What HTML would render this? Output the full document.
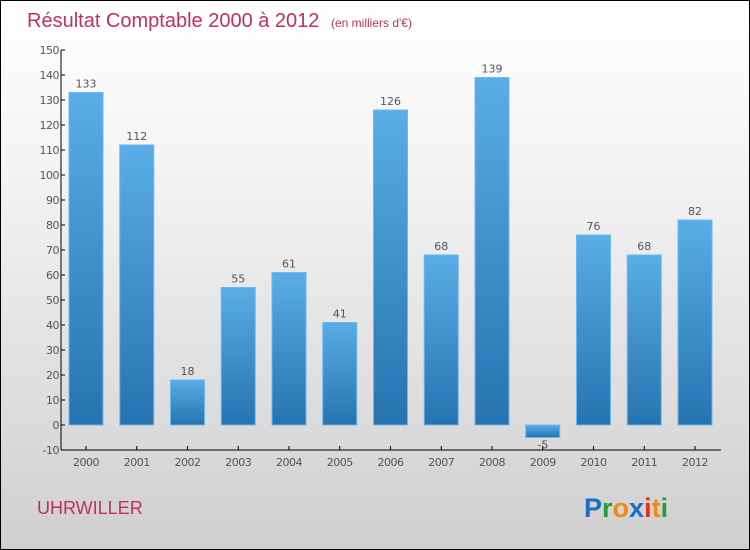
<!DOCTYPE html>
<html><head><meta charset="utf-8"><style>
body{margin:0}
#c{position:relative;width:748px;height:548px;border:1px solid #000;background:linear-gradient(#ffffff,#f4f4f4 30%,#cfcfcf);overflow:hidden;font-family:"DejaVu Sans","Liberation Sans",sans-serif}
</style></head><body>
<div id="c">
<svg id="s" width="748" height="548" xmlns="http://www.w3.org/2000/svg">
<defs><linearGradient id="g" x1="0" y1="0" x2="0" y2="1"><stop offset="0" stop-color="#5aade6"/><stop offset="1" stop-color="#2673b0"/></linearGradient></defs>
<text x="26" y="26" font-size="20" fill="#c0305f" font-family="Liberation Sans,sans-serif">Résultat Comptable 2000 à 2012 <tspan font-size="12" dx="6">(en milliers d'€)</tspan></text>
<text x="36" y="513" font-size="18" fill="#c0305f" font-family="Liberation Sans,sans-serif">UHRWILLER</text>
<text x="583" y="516" font-size="27" font-weight="bold" font-family="Liberation Sans,sans-serif"><tspan fill="#1a6fc4">P</tspan><tspan fill="#2a9a3a">r</tspan><tspan fill="#f08a10">o</tspan><tspan fill="#1a6fc4">x</tspan><tspan fill="#e03020">i</tspan><tspan fill="#f08a10">t</tspan><tspan fill="#2a9a3a">i</tspan></text>
<g id="plot"></g>
</svg>
</div>
<script>
const categories=["2000","2001","2002","2003","2004","2005","2006","2007","2008","2009","2010","2011","2012"];
const values=[133,112,18,55,61,41,126,68,139,-5,76,68,82];
const yTicks=[-10,0,10,20,30,40,50,60,70,80,90,100,110,120,130,140,150];
const NS="http://www.w3.org/2000/svg";
const g=document.getElementById('plot');
function y(v){return 424-(v*2.5);}
function x(i){return 85+i*50.75;}
function mk(t,a,txt){const e=document.createElementNS(NS,t);for(const k in a)e.setAttribute(k,a[k]);if(txt!==undefined)e.textContent=txt;g.appendChild(e);return e;}
let e=mk('line',{x1:60,y1:y(150),x2:60,y2:y(-10),stroke:'#000'});


e=mk('line',{x1:60,y1:y(-10),x2:720,y2:y(-10),stroke:'#000'});


yTicks.forEach(t=>{
  mk('line',{x1:60,y1:y(t),x2:64,y2:y(t),stroke:'#000'});
  e=mk('text',{x:58,y:y(t)+4,'font-size':11,fill:'#555','text-anchor':'end','letter-spacing':'-0.5'},String(t));
  
  
});
categories.forEach((c,i)=>{
  const v=values[i],cx=x(i),top=Math.min(y(v),y(0)),h=Math.abs(y(v)-y(0));
  e=mk('rect',{x:cx-17,y:top,width:34,height:h,fill:'url(#g)',stroke:'#6ab8f0','stroke-width':1});
  
  
  e=mk('text',{x:cx,y:v>=0?y(v)-5:y(v)+11,'font-size':11,fill:'#555','text-anchor':'middle'},String(v));
  
  
  mk('line',{x1:cx,y1:y(-10)-4,x2:cx,y2:y(-10),stroke:'#000'});
  e=mk('text',{x:cx,y:y(-10)+16,'font-size':11,fill:'#555','text-anchor':'middle','letter-spacing':'-0.5'},c);
  
  
});
</script>
</body></html>
